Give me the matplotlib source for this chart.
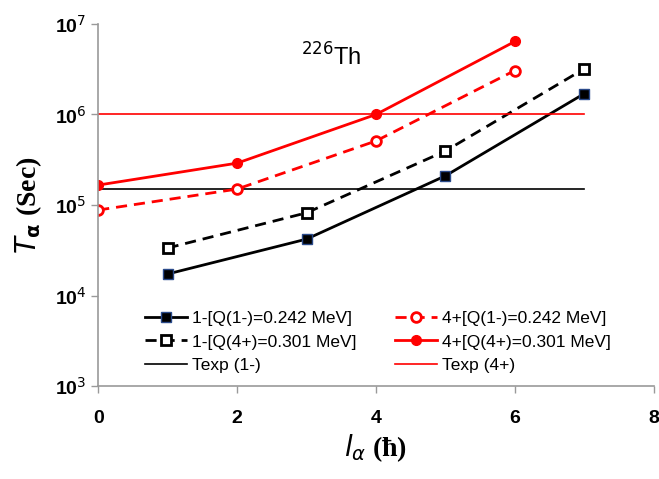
import matplotlib
matplotlib.use("Agg")
import matplotlib.pyplot as plt
from matplotlib.ticker import FixedLocator, NullLocator

x_odd = [1, 3, 5, 7]
x_even = [0, 2, 4, 6]
t_1m_q1m = [1.73e4, 4.2e4, 2.1e5, 1.7e6]
t_1m_q4p = [3.35e4, 8.2e4, 3.95e5, 3.2e6]
t_4p_q1m = [8.8e4, 1.5e5, 5.1e5, 3.06e6]
t_4p_q4p = [1.66e5, 2.9e5, 1.0e6, 6.4e6]
texp_1m = 1.5e5
texp_4p = 1.0e6
texp_x = [0, 7]

labels = ["1-[Q(1-)=0.242 MeV]", "1-[Q(4+)=0.301 MeV]", "Texp (1-)",
          "4+[Q(1-)=0.242 MeV]", "4+[Q(4+)=0.301 MeV]", "Texp (4+)"]

fnt = ["Liberation Sans", "DejaVu Sans"]

fig = plt.figure(figsize=(6.59, 4.79), dpi=100)
ax = fig.add_axes([0.149, 0.194, 0.843, 0.756])

h1, = ax.plot(x_odd, t_1m_q1m, color="black", lw=2, marker="s", ms=7,
              mfc="black", mec="#2a4a8a", mew=1)
h2, = ax.plot(x_odd, t_1m_q4p, color="black", lw=2, ls=(0, (4, 2.5)), marker="s", ms=7,
              mfc="white", mec="black", mew=2)
h3, = ax.plot(texp_x, [texp_1m, texp_1m], color="black", lw=1.2)
h4, = ax.plot(x_even, t_4p_q1m, color="red", lw=2, ls=(0, (4, 2.5)), marker="o", ms=7,
              mfc="white", mec="red", mew=2)
h5, = ax.plot(x_even, t_4p_q4p, color="red", lw=2, marker="o", ms=7,
              mfc="red", mec="red")
h6, = ax.plot(texp_x, [texp_4p, texp_4p], color="red", lw=1.2)

ax.set_yscale("log")
ax.set_xlim(0, 8)
ax.set_ylim(1e3, 1e7)
ax.xaxis.set_major_locator(FixedLocator([0, 2, 4, 6, 8]))
ax.yaxis.set_major_locator(FixedLocator([1e3, 1e4, 1e5, 1e6, 1e7]))
ax.yaxis.set_minor_locator(NullLocator())
ax.set_yticklabels([r"10$^{3}$", r"10$^{4}$", r"10$^{5}$", r"10$^{6}$", r"10$^{7}$"])
for lab in ax.get_xticklabels() + ax.get_yticklabels():
    lab.set_family(fnt)
    lab.set_fontweight("bold")
    lab.set_fontsize(14)
ax.tick_params(axis="both", direction="out", length=5, color="#999999", width=1)
ax.tick_params(axis="x", pad=12)
for s in ["top", "right"]:
    ax.spines[s].set_visible(False)
for s in ["left", "bottom"]:
    ax.spines[s].set_color("#999999")
    ax.spines[s].set_linewidth(1.2)

ax.set_ylabel(r"$\mathbf{\mathit{T}_{\alpha}}$ (Sec)", family="Liberation Serif",
              fontsize=20, fontweight="bold", labelpad=8)
ax.set_xlabel(r"$\mathit{l}_{\alpha}$ (ħ)", family="Liberation Serif",
              fontsize=20, fontweight="bold", labelpad=4)

ax.text(3.35, 4.3e6, r"$^{226}$Th", family=fnt, fontsize=17, ha="center", va="center")

leg = ax.legend([h1, h2, h3, h4, h5, h6], labels, ncol=2, frameon=False,
                loc="lower left", bbox_to_anchor=(0.085, 0.035), borderaxespad=0,
                borderpad=0, prop={"family": fnt, "size": 12.5}, handlelength=2.4,
                columnspacing=2.2, labelspacing=0.5, handletextpad=0.3)

fig.savefig("out.png", dpi=100)
